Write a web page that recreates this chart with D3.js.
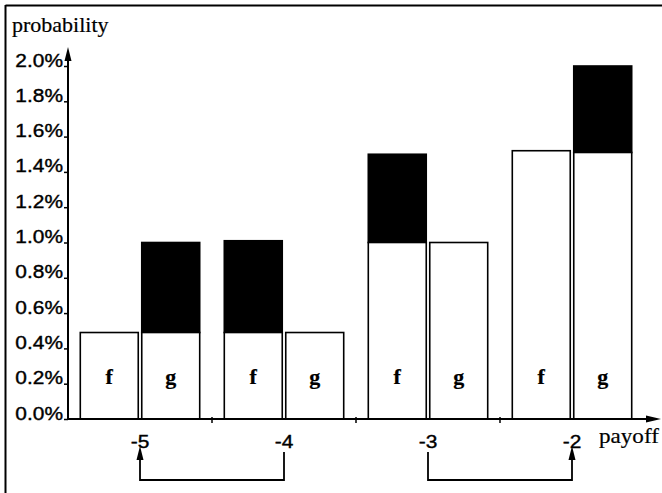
<!DOCTYPE html>
<html>
<head>
<meta charset="utf-8">
<script src="https://cdn.jsdelivr.net/npm/d3@7/dist/d3.min.js"></script>
<style>
  html, body { margin: 0; padding: 0; background: #fff; }
  svg { display: block; }
</style>
</head>
<body>
<svg id="chart" width="662" height="493"></svg>
<script>
// ---- data ----
const categories = [-5, -4, -3, -2];
const fWhite = [0.49, 0.49, 1.0, 1.52];
const fBlack = [0, 0.52, 0.5, 0];
const gWhite = [0.49, 0.49, 1.0, 1.51];
const gBlack = [0.51, 0, 0, 0.49];
const yTicks = [0, 0.2, 0.4, 0.6, 0.8, 1.0, 1.2, 1.4, 1.6, 1.8, 2.0];
const shifts = [{ from: -4, to: -5 }, { from: -3, to: -2 }];

// ---- layout ----
const SX = 1.1; // horizontal stretch of the lettering
const svg = d3.select("#chart");
const x0 = 68, x1 = 644, yBase = 419, yTop = 66;
const SANS = "'Liberation Sans', Arial, sans-serif";
const SERIF = "'Liberation Serif', 'Times New Roman', serif";

const x = d3.scaleBand().domain(categories).range([x0, x1]).padding(0);
const sub = d3.scaleBand().domain(["f", "g"]).range([0, x.bandwidth()])
  .paddingInner(0.057).paddingOuter(0.2);
const y = d3.scaleLinear().domain([0, 2.0]).range([yBase, yTop]);

// frame (top and left edges)
svg.append("line").attr("x1", 5.5).attr("x2", 662).attr("y1", 5.5).attr("y2", 5.5)
  .attr("stroke", "#000").attr("stroke-width", 2);
svg.append("line").attr("x1", 5.5).attr("x2", 5.5).attr("y1", 5).attr("y2", 493)
  .attr("stroke", "#000").attr("stroke-width", 2);

function stretchedText(g, tx, ty, str, opts) {
  return g.append("text")
    .attr("transform", `translate(${tx},${ty}) scale(${SX},1)`)
    .attr("text-anchor", opts.anchor || "start")
    .attr("font-family", opts.family)
    .attr("font-size", opts.size)
    .attr("font-weight", opts.weight || "normal")
    .attr("fill", "#000")
    .attr("stroke", "#000").attr("stroke-width", opts.sw || 0.3)
    .text(str);
}

// ---- bars ----
const barData = [];
categories.forEach((c, i) => {
  barData.push({ cat: c, key: "f", white: fWhite[i], black: fBlack[i] });
  barData.push({ cat: c, key: "g", white: gWhite[i], black: gBlack[i] });
});
const bars = svg.append("g");
const bg = bars.selectAll("g.bar").data(barData).join("g").attr("class", "bar");
bg.filter(d => d.black > 0).append("rect")
  .attr("x", d => x(d.cat) + sub(d.key))
  .attr("width", sub.bandwidth())
  .attr("y", d => y(d.white + d.black))
  .attr("height", d => y(d.white) - y(d.white + d.black))
  .attr("fill", "#000").attr("stroke", "#000").attr("stroke-width", 1.6);
bg.append("rect")
  .attr("x", d => x(d.cat) + sub(d.key))
  .attr("width", sub.bandwidth())
  .attr("y", d => y(d.white))
  .attr("height", d => y(0) - y(d.white))
  .attr("fill", "#fff").attr("stroke", "#000").attr("stroke-width", 1.6);
bg.each(function (d) {
  stretchedText(d3.select(this), x(d.cat) + sub(d.key) + sub.bandwidth() / 2, 384, d.key,
    { anchor: "middle", family: SERIF, size: 20, weight: "bold", sw: 0.2 });
});

// ---- y axis ----
const yAxis = svg.append("g").attr("transform", `translate(${x0},0)`)
  .call(d3.axisLeft(y).tickValues(yTicks).tickSize(4).tickFormat(d => d.toFixed(1) + "%"));
yAxis.select(".domain").remove();
yAxis.selectAll(".tick line").attr("stroke", "#000").attr("stroke-width", 1.5);
yAxis.selectAll(".tick text")
  .attr("x", null).attr("dy", null)
  .attr("transform", `translate(-5,0) scale(${SX},1)`)
  .attr("font-family", SANS)
  .attr("font-size", 19).attr("fill", "#000")
  .attr("stroke", "#000").attr("stroke-width", 0.4);
svg.append("line").attr("x1", x0).attr("x2", x0).attr("y1", yBase + 1).attr("y2", 58)
  .attr("stroke", "#000").attr("stroke-width", 2);
svg.append("path").attr("d", `M${x0},47 L${x0 - 3.5},61 L${x0 + 3.5},61 Z`).attr("fill", "#000");

// ---- x axis ----
const xAxis = svg.append("g").attr("transform", `translate(0,${yBase})`)
  .call(d3.axisBottom(x).tickSize(0).tickFormat(d => String(d)));
xAxis.select(".domain").remove();
xAxis.selectAll(".tick text")
  .attr("y", null).attr("dy", null)
  .attr("transform", `translate(0,29) scale(${SX},1)`)
  .attr("font-family", SANS)
  .attr("font-size", 19).attr("fill", "#000")
  .attr("stroke", "#000").attr("stroke-width", 0.4);
svg.append("line").attr("x1", x0 - 1).attr("x2", 650).attr("y1", yBase).attr("y2", yBase)
  .attr("stroke", "#000").attr("stroke-width", 2);
svg.append("path").attr("d", `M661,${yBase} L646,${yBase - 3.5} L646,${yBase + 3.5} Z`).attr("fill", "#000");
// band boundary ticks
svg.append("g").selectAll("line").data(categories.slice(1)).join("line")
  .attr("x1", d => x(d)).attr("x2", d => x(d))
  .attr("y1", yBase - 2).attr("y2", yBase + 4)
  .attr("stroke", "#000").attr("stroke-width", 1.5);

// axis titles
stretchedText(svg, 12, 32, "probability", { family: SERIF, size: 20, sw: 0.2 });
stretchedText(svg, 599, 443, "payoff", { family: SERIF, size: 21, sw: 0.2 });

// ---- shift connectors ----
const cx = d => x(d) + x.bandwidth() / 2;
const conn = svg.append("g");
shifts.forEach(s => {
  const xf = cx(s.from), xt = cx(s.to);
  conn.append("path")
    .attr("d", `M${xf},452 L${xf},480 L${xt},480 L${xt},458`)
    .attr("fill", "none").attr("stroke", "#000").attr("stroke-width", 1.8);
  conn.append("path")
    .attr("d", `M${xt},446 L${xt - 3.5},460 L${xt + 3.5},460 Z`).attr("fill", "#000");
});
</script>
</body>
</html>
